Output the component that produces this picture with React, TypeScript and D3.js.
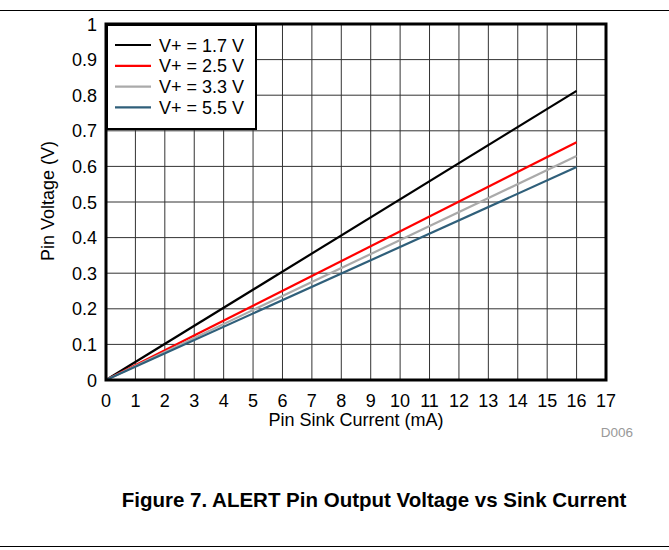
import React from "react";
import * as d3 from "d3";

// Pin sink current (mA) vs. pin voltage (V) for each supply voltage
const currents = [0, 16];
const v17 = [0, 0.812];
const v25 = [0, 0.668];
const v33 = [0, 0.629];
const v55 = [0, 0.598];

const seriesLabels = ["V+ = 1.7 V", "V+ = 2.5 V", "V+ = 3.3 V", "V+ = 5.5 V"];
const seriesColors = ["#000000", "#ff0000", "#aaaaaa", "#2f5f7a"];
const seriesValues = [v17, v25, v33, v55];

const xTicks = d3.range(0, 18, 1);
const yTicks = d3.range(0, 11, 1).map((d) => d / 10);

const W = 669;
const H = 550;
const left = 106;
const right = 606;
const top = 24;
const bottom = 380;
const FONT = "'Liberation Sans', Arial, sans-serif";

export default function App() {
  const x = d3.scaleLinear().domain([0, 17]).range([left, right]);
  const y = d3.scaleLinear().domain([0, 1]).range([bottom, top]);
  const line = d3
    .line<[number, number]>()
    .x((d) => x(d[0]))
    .y((d) => y(d[1]));

  return (
    <svg
      width={W}
      height={H}
      style={{ position: "absolute", left: 0, top: 0, background: "#fff" }}
      fontFamily={FONT}
    >
      <line x1={0} x2={W} y1={10.5} y2={10.5} stroke="#000" strokeWidth={1.2} />
      <line x1={0} x2={W} y1={546.5} y2={546.5} stroke="#000" strokeWidth={1.2} />

      {/* grid */}
      {xTicks.slice(1, -1).map((t) => (
        <line key={"gx" + t} x1={x(t)} x2={x(t)} y1={top} y2={bottom} stroke="#333" strokeWidth={1} />
      ))}
      {yTicks.slice(1, -1).map((t) => (
        <line key={"gy" + t} x1={left} x2={right} y1={y(t)} y2={y(t)} stroke="#333" strokeWidth={1} />
      ))}

      {/* series */}
      {seriesValues.map((vals, i) => (
        <path
          key={"s" + i}
          d={line(currents.map((c, j) => [c, vals[j]] as [number, number])) || ""}
          fill="none"
          stroke={seriesColors[i]}
          strokeWidth={2.2}
        />
      ))}

      {/* frame */}
      <rect x={left} y={top} width={right - left} height={bottom - top} fill="none" stroke="#000" strokeWidth={3} />

      {/* legend */}
      <rect x={107} y={25} width={149} height={104} fill="#fff" stroke="#000" strokeWidth={2} />
      {seriesLabels.map((lab, i) => (
        <g key={"l" + i} transform={`translate(0, ${45 + i * 20.8})`}>
          <line x1={115} x2={151} y1={0} y2={0} stroke={seriesColors[i]} strokeWidth={2.2} />
          <text x={159} y={6.5} fontSize={18} fill="#000">
            {lab}
          </text>
        </g>
      ))}

      {/* axes labels */}
      {xTicks.map((t) => (
        <text key={"xt" + t} x={x(t)} y={406.5} fontSize={18} textAnchor="middle" fill="#000">
          {t}
        </text>
      ))}
      {yTicks.map((t) => (
        <text key={"yt" + t} x={97} y={y(t) + 6.5} fontSize={18} textAnchor="end" fill="#000">
          {t === 0 || t === 1 ? String(t) : t.toFixed(1)}
        </text>
      ))}
      <text x={356} y={426} fontSize={18} textAnchor="middle" fill="#000">
        Pin Sink Current (mA)
      </text>
      <text
        transform={`translate(54, 201) rotate(-90)`}
        fontSize={18}
        textAnchor="middle"
        fill="#000"
      >
        Pin Voltage (V)
      </text>
      <text x={617} y={437} fontSize={13.5} textAnchor="middle" fill="#999">
        D006
      </text>

      <text x={374} y={507} fontSize={20.5} fontWeight="bold" textAnchor="middle" fill="#000">
        Figure 7. ALERT Pin Output Voltage vs Sink Current
      </text>
    </svg>
  );
}
